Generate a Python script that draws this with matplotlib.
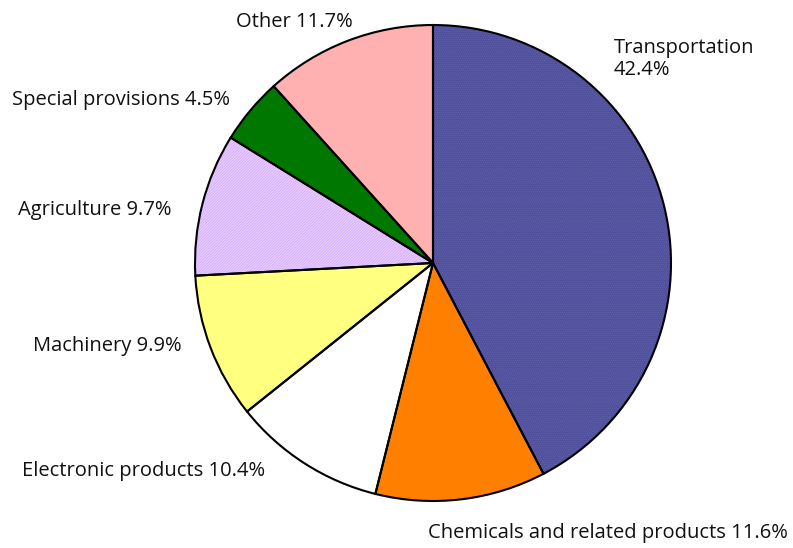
import matplotlib.pyplot as plt

labels = ["Transportation\n42.4%", "Chemicals and related products 11.6%",
          "Electronic products 10.4%", "Machinery 9.9%", "Agriculture 9.7%",
          "Special provisions 4.5%", "Other 11.7%"]
shares = [42.4, 11.6, 10.4, 9.9, 9.7, 4.5, 11.7]
colors = ["#4f4f9c", "#ff8000", "#ffffff", "#ffff80", "#d8b0ff", "#007800", "#ff6464"]
hatch_colors = ["#6262aa", "#ff8000", "#ffffff", "#ffff80", "#ecd6ff", "#007800", "#ffb0b0"]
hatches = ["........", None, None, None, "/" * 12, None, "-" * 24]

# label anchor positions in pixels (x, y from top, ha)
label_pos = [(614, 59, "left"), (428, 533, "left"), (22, 471, "left"),
             (33, 346, "left"), (18, 210, "left"), (12, 100, "left"), (353, 22, "right")]

W, H = 793, 548
fig = plt.figure(figsize=(W / 100, H / 100), dpi=100)
ax = fig.add_axes([0, 0, 1, 1])

center = (433, H - 263)
radius = 238

plt.rcParams["hatch.linewidth"] = 0.6
# fills with hatch texture
wedges, _ = ax.pie(shares, colors=colors, startangle=90, counterclock=False,
                   center=center, radius=radius, frame=True,
                   wedgeprops=dict(linewidth=0))
for w, h, hc in zip(wedges, hatches, hatch_colors):
    if h:
        w.set_hatch(h)
        w.set_edgecolor(hc)

# black outlines on top
ax.pie(shares, colors=["none"] * len(shares), startangle=90, counterclock=False,
       center=center, radius=radius, frame=True,
       wedgeprops=dict(linewidth=1.5, edgecolor="black"))
ax.set_xlim(0, W)
ax.set_ylim(0, H)
ax.set_aspect("equal")
ax.axis("off")

for lab, (x, y, ha) in zip(labels, label_pos):
    ax.text(x, H - y, lab, ha=ha, va="center", fontsize=14.5,
            family="Open Sans", color="#111111", linespacing=1.1)

fig.savefig("out.png", dpi=100)
